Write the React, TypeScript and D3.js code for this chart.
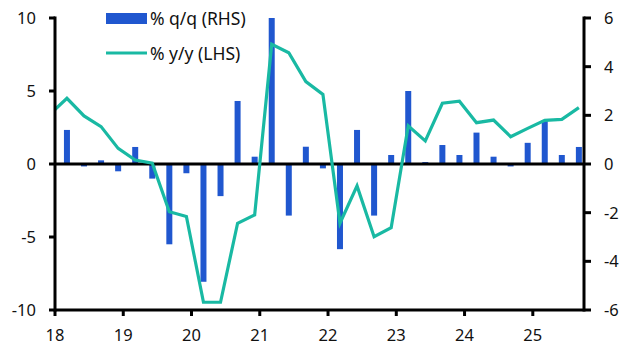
import React from "react";
import * as d3 from "d3";

const quarters: string[] = [
  "2017Q4",
  "2018Q1","2018Q2","2018Q3","2018Q4",
  "2019Q1","2019Q2","2019Q3","2019Q4",
  "2020Q1","2020Q2","2020Q3","2020Q4",
  "2021Q1","2021Q2","2021Q3","2021Q4",
  "2022Q1","2022Q2","2022Q3","2022Q4",
  "2023Q1","2023Q2","2023Q3","2023Q4",
  "2024Q1","2024Q2","2024Q3","2024Q4",
  "2025Q1","2025Q2","2025Q3",
];

// % q/q (RHS) — null for the quarter before the chart window
const qq: (number | null)[] = [
  null,
  1.4, -0.1, 0.15, -0.3,
  0.7, -0.6, -3.3, -0.38,
  -4.84, -1.32, 2.59, 0.3,
  6.0, -2.12, 0.71, -0.18,
  -3.5, 1.4, -2.12, 0.37,
  3.0, 0.08, 0.78, 0.37,
  1.29, 0.3, -0.1, 0.87,
  1.8, 0.37, 0.7,
];

// % y/y (LHS)
const yy: number[] = [
  3.4,
  4.5, 3.29, 2.56, 1.07,
  0.27, 0.05, -3.27, -3.6,
  -9.47, -9.47, -4.06, -3.49,
  8.2, 7.62, 5.64, 4.77,
  -4.06, -1.5, -4.98, -4.36,
  2.62, 1.58, 4.16, 4.3,
  2.83, 3.01, 1.87, 2.44,
  2.99, 3.06, 3.86,
];

const xTicks: number[] = [2018, 2019, 2020, 2021, 2022, 2023, 2024, 2025];
const leftTicks: number[] = [-10, -5, 0, 5, 10];
const rightTicks: number[] = [-6, -4, -2, 0, 2, 4, 6];
const legendLabels: string[] = ["% q/q (RHS)", "% y/y (LHS)"];

const BLUE = "#2057cf";
const TEAL = "#19b9a3";
const FONT = "'Noto Sans', sans-serif";

function qPos(q: string): number {
  const y = +q.slice(0, 4);
  const n = +q.slice(5);
  return y + (n - 1) * 0.25 + 0.175;
}

export default function App() {
  const W = 629, H = 355;
  const left = 55, right = 584, top = 18, bottom = 310;
  const x = d3.scaleLinear().domain([2018, 2025.75]).range([left, right]);
  const yL = d3.scaleLinear().domain([-10, 10]).range([bottom, top]);
  const yR = d3.scaleLinear().domain([-6, 6]).range([bottom, top]);

  const line = d3
    .line<number>()
    .x((_, i) => x(qPos(quarters[i])))
    .y((d) => yL(d));

  const barW = 6;

  return (
    <svg width={W} height={H} style={{ position: "absolute", left: 0, top: 0 }}>
      <defs>
        <clipPath id="plot">
          <rect x={left} y={0} width={right - left} height={bottom} />
        </clipPath>
      </defs>
      {/* bars */}
      {qq.map((v, i) =>
        v === null ? null : (
          <rect
            key={quarters[i]}
            x={x(qPos(quarters[i])) - barW / 2}
            y={Math.min(yR(v), yR(0))}
            width={barW}
            height={Math.abs(yR(v) - yR(0))}
            fill={BLUE}
          />
        )
      )}
      {/* zero line */}
      <line x1={left} x2={right} y1={yL(0)} y2={yL(0)} stroke="#000" strokeWidth={3} />
      {/* y/y line */}
      <path
        d={line(yy) || ""}
        fill="none"
        stroke={TEAL}
        strokeWidth={3.2}
        strokeLinejoin="miter"
        clipPath="url(#plot)"
      />
      {/* axes */}
      <line x1={left} x2={left} y1={top - 1.5} y2={bottom + 1.5} stroke="#000" strokeWidth={3} />
      <line x1={right} x2={right} y1={top - 1.5} y2={bottom + 1.5} stroke="#000" strokeWidth={3} />
      <line x1={left} x2={right} y1={bottom} y2={bottom} stroke="#000" strokeWidth={3} />
      {leftTicks.map((t) => (
        <g key={"l" + t}>
          <line x1={left - 6} x2={left} y1={yL(t)} y2={yL(t)} stroke="#000" strokeWidth={3} />
          <text x={36} y={yL(t)} dy="0.36em" textAnchor="end" fontFamily={FONT} fontSize={16.5} fill="#111">
            {t}
          </text>
        </g>
      ))}
      {rightTicks.map((t) => (
        <g key={"r" + t}>
          <line x1={right} x2={right + 7} y1={yR(t)} y2={yR(t)} stroke="#000" strokeWidth={3} />
          <text x={604} y={yR(t)} dy="0.36em" textAnchor="start" fontFamily={FONT} fontSize={16.5} fill="#111">
            {t}
          </text>
        </g>
      ))}
      {xTicks.map((t) => (
        <g key={"x" + t}>
          <line x1={x(t)} x2={x(t)} y1={bottom} y2={bottom + 6} stroke="#000" strokeWidth={3} />
          <text x={x(t)} y={340.5} textAnchor="middle" fontFamily={FONT} fontSize={16.5} fill="#111">
            {String(t).slice(2)}
          </text>
        </g>
      ))}
      {/* legend */}
      <rect x={106} y={13} width={41} height={11} fill={BLUE} />
      <text x={150} y={25} fontFamily={FONT} fontSize={17.5} fill="#111">{legendLabels[0]}</text>
      <line x1={106} x2={147} y1={53} y2={53} stroke={TEAL} strokeWidth={3.2} />
      <text x={150} y={60} fontFamily={FONT} fontSize={17.5} fill="#111">{legendLabels[1]}</text>
    </svg>
  );
}
